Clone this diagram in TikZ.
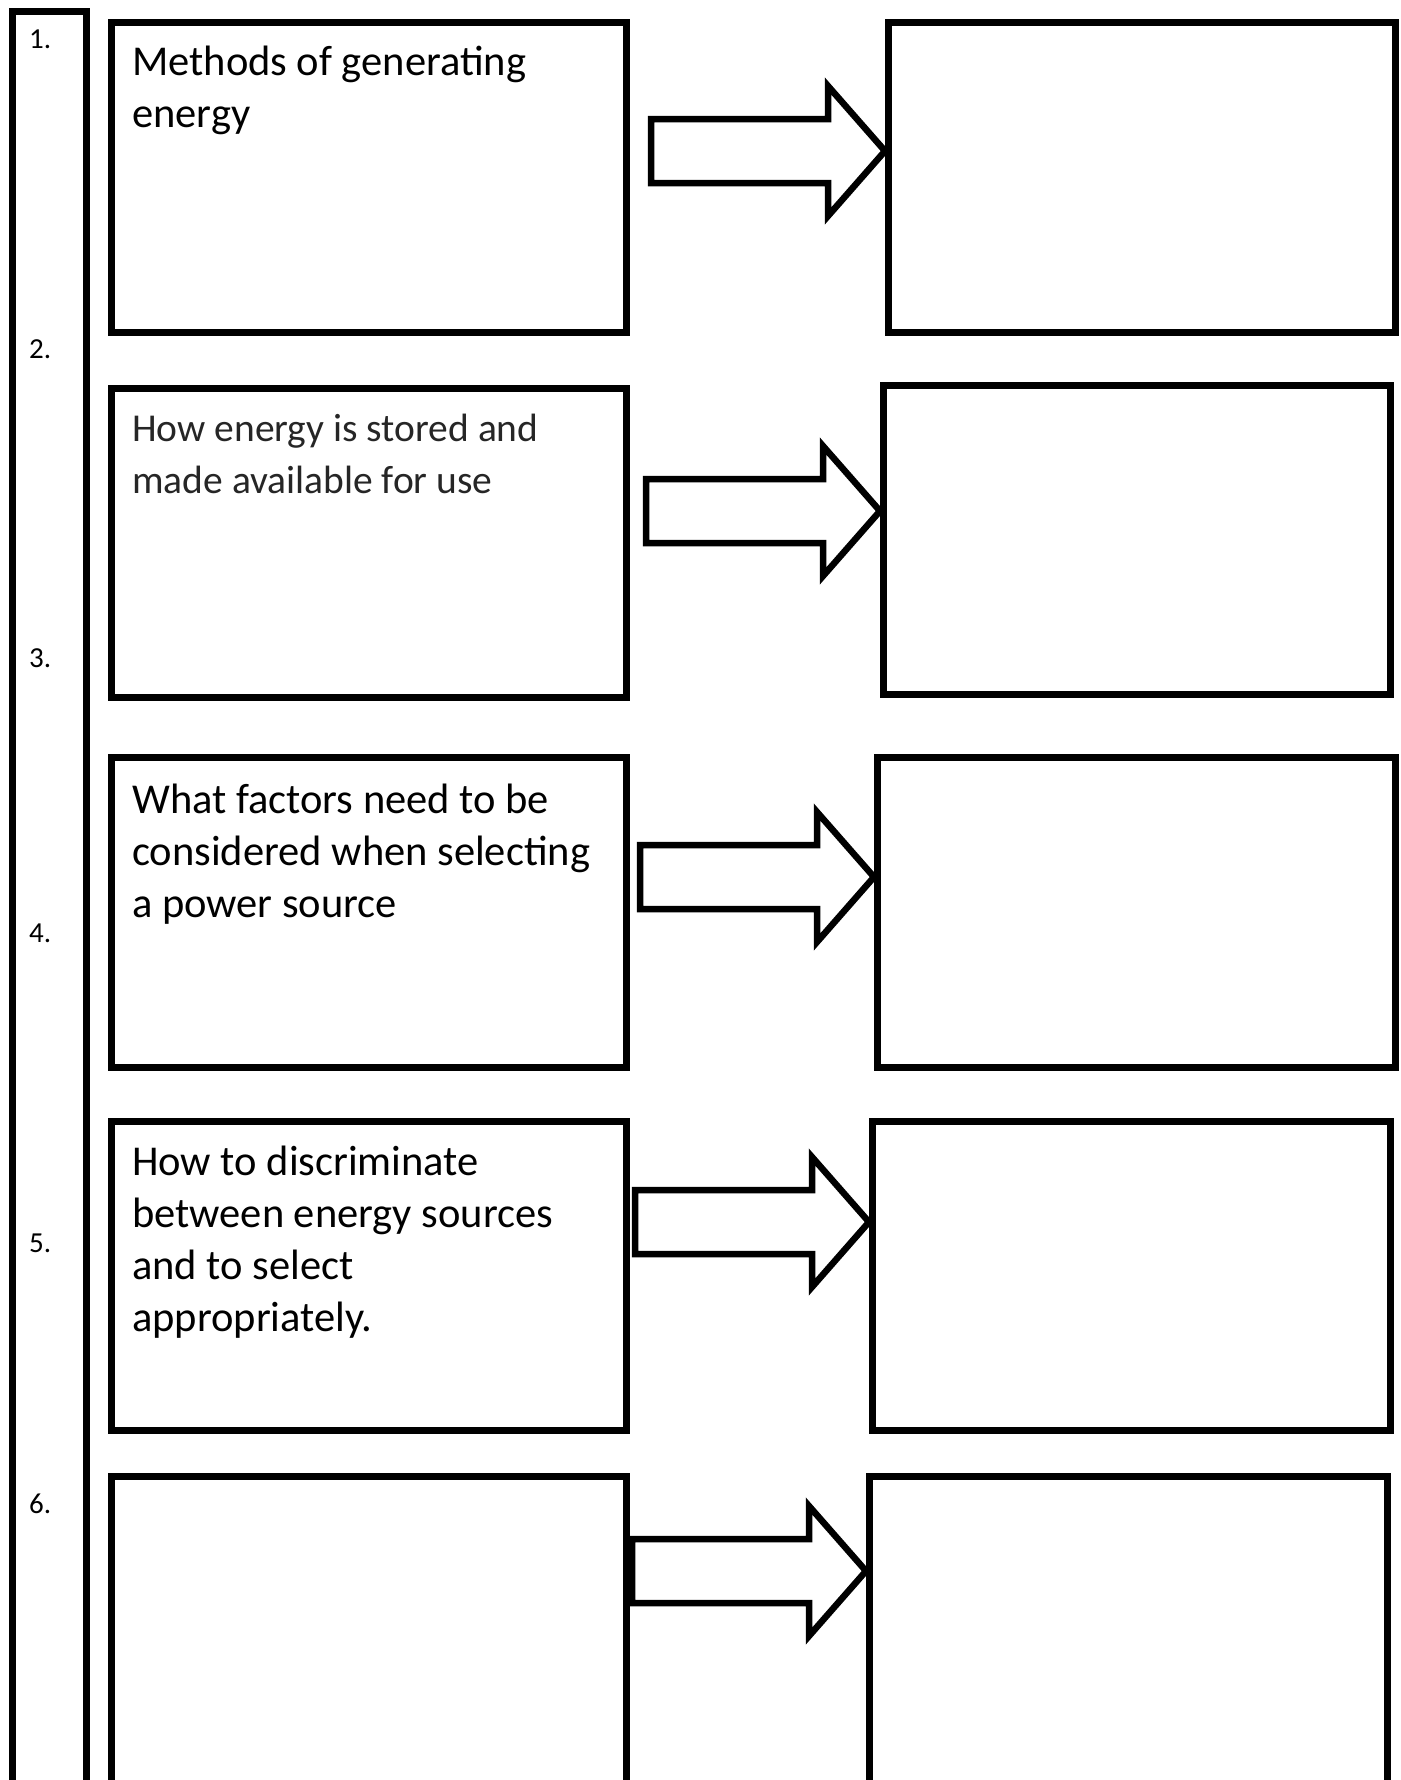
\documentclass[tikz,border=0pt]{standalone}
\usepackage{fontspec}
\setmainfont{Carlito}
\usetikzlibrary{calc,positioning}

\begin{document}
\begin{tikzpicture}[x=1pt,y=-1pt,
		box/.style={draw=black, line width=7pt, rectangle, inner sep=0pt, anchor=north west},
		fatarrow/.style={draw=black, line width=6.5pt, fill=white, line join=miter},
		num/.style={font=\fontsize{29}{34}\selectfont, anchor=base west, inner sep=0pt},
		txt/.style={font=\fontsize{42.5}{52}\selectfont, anchor=base west, inner sep=0pt}]
	
	\fill[white] (0,0) rectangle (1400,1780);
	\useasboundingbox (0,0) rectangle (1400,1780);
	
	% numbered strip on the left
	\node[box, minimum width=74pt, minimum height=1820pt] (strip) at (9,8) {};
	\node[num] (n1) at (29,48) {1.};
	\node[num] (n2) at (29,358) {2.};
	\node[num] (n3) at (29,667) {3.};
	\node[num] (n4) at (29,942) {4.};
	\node[num] (n5) at (29,1252) {5.};
	\node[num] (n6) at (29,1513) {6.};
	
	% topic boxes
	\node[box, minimum width=515pt, minimum height=310pt] (topic1) at (108,19) {};
	\node[box, minimum width=515pt, minimum height=309pt] (topic2) at (108,385) {};
	\node[box, minimum width=515pt, minimum height=310pt] (topic3) at (108,754) {};
	\node[box, minimum width=515pt, minimum height=309pt] (topic4) at (108,1118) {};
	\node[box, minimum width=515pt, minimum height=360pt] (topic5) at (108,1473) {};
	
	\node[txt] (label1) at ($(topic1.north west)+(24,56)$) {\parbox[t]{480pt}{\raggedright Methods of generating\\energy}};
	\node[txt, font=\fontsize{39.5}{52}\selectfont, text=black!85] (label2) at ($(topic2.north west)+(24,56)$) {\parbox[t]{480pt}{\raggedright How energy is stored and\\made available for use}};
	\node[txt] (label3) at ($(topic3.north west)+(24,59)$) {\parbox[t]{480pt}{\raggedright What factors need to be\\considered when selecting\\a power source}};
	\node[txt] (label4) at ($(topic4.north west)+(24,57)$) {\parbox[t]{480pt}{\raggedright How to discriminate\\between energy sources\\and to select\\appropriately.}};
	
	% answer boxes
	\node[box, minimum width=507pt, minimum height=310pt] (answer1) at (885,19) {};
	\node[box, minimum width=507pt, minimum height=309pt] (answer2) at (880,382) {};
	\node[box, minimum width=518pt, minimum height=310pt] (answer3) at (874,754) {};
	\node[box, minimum width=518pt, minimum height=309pt] (answer4) at (869,1118) {};
	\node[box, minimum width=518pt, minimum height=360pt] (answer5) at (866,1473) {};
	
	% block arrows ending on the answer boxes
	\coordinate (tip1) at ($(answer1.north west)+(0,132)$);
	\coordinate (tip2) at ($(answer2.north west)+(0,129)$);
	\coordinate (tip3) at ($(answer3.north west)+(0,123)$);
	\coordinate (tip4) at ($(answer4.north west)+(0,104)$);
	\coordinate (tip5) at ($(answer5.north west)+(0,98)$);
	
	\draw[fatarrow] (tip1) -- ++(-57,-65) -- ++(0,33) -- ++(-177,0) -- ++(0,64) -- ++(177,0) -- ++(0,33) -- cycle;
	\draw[fatarrow] (tip2) -- ++(-57,-65) -- ++(0,33) -- ++(-177,0) -- ++(0,64) -- ++(177,0) -- ++(0,33) -- cycle;
	\draw[fatarrow] (tip3) -- ++(-57,-65) -- ++(0,33) -- ++(-177,0) -- ++(0,64) -- ++(177,0) -- ++(0,33) -- cycle;
	\draw[fatarrow] (tip4) -- ++(-57,-65) -- ++(0,33) -- ++(-177,0) -- ++(0,64) -- ++(177,0) -- ++(0,33) -- cycle;
	\draw[fatarrow] (tip5) -- ++(-57,-65) -- ++(0,33) -- ++(-177,0) -- ++(0,64) -- ++(177,0) -- ++(0,33) -- cycle;
	
\end{tikzpicture}
\end{document}
